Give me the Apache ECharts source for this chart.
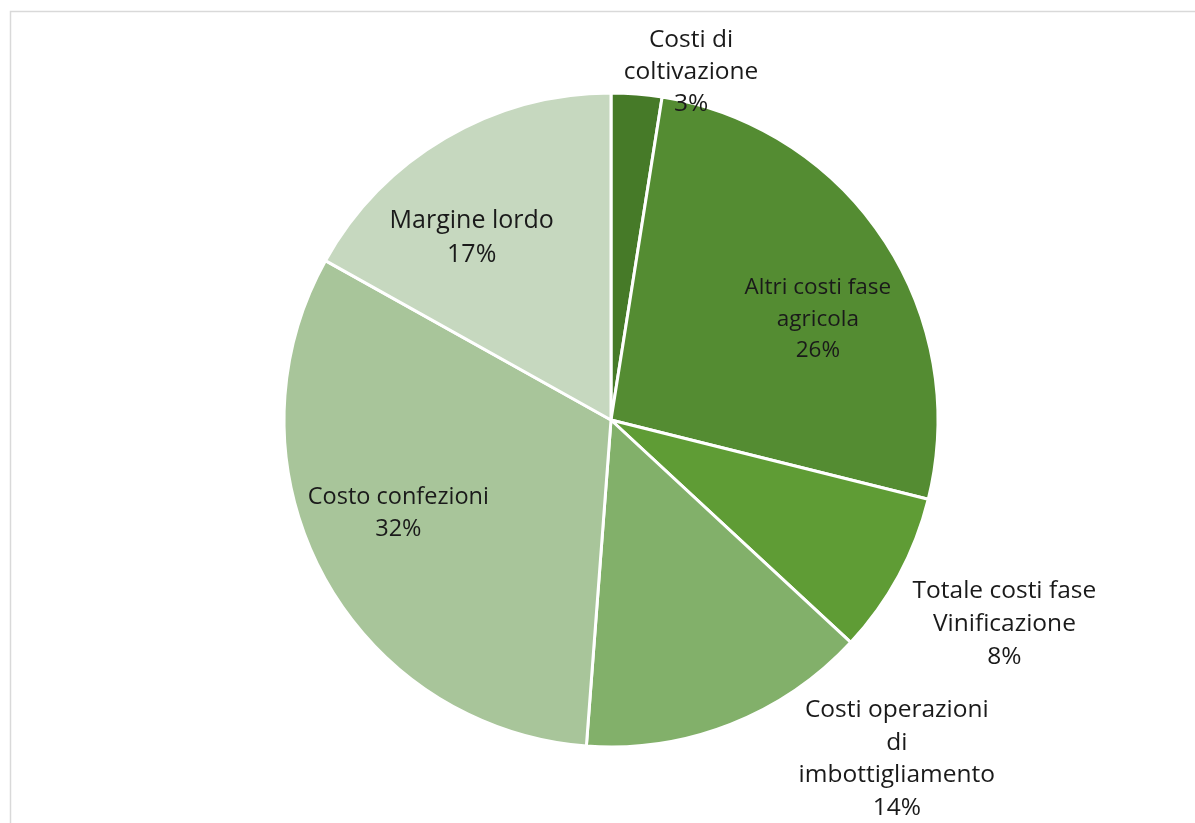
<!DOCTYPE html>
<html>
<head>
<meta charset="utf-8">
<script src="https://cdn.jsdelivr.net/npm/echarts@6/dist/echarts.min.js"></script>
<style>html,body{margin:0;padding:0;background:#fff}#c{width:1195px;height:823px}</style>
</head>
<body>
<div id="c"></div>
<script>
const categories = [
  "Costi di\ncoltivazione",
  "Altri costi fase\nagricola",
  "Totale costi fase\nVinificazione",
  "Costi operazioni\ndi\nimbottigliamento",
  "Costo confezioni",
  "Margine lordo"
];
const values = [2.5, 26.4, 8.0, 14.3, 31.9, 16.9];
const colors = ["#467a28", "#548c32", "#5f9c35", "#82b06a", "#a8c59a", "#c6d8bf"];
const labelOffsets = [[67, -182], [68, -9], [247, 125], [225, 184], [-66, 14], [-55, -39]];
const labelSizes = [24.5, 22.5, 24.5, 24.5, 23.5, 25];
const labelLineHeights = [32, 31.5, 33, 32.5, 32, 34];

const chart = echarts.init(document.getElementById('c'), null, {renderer: 'canvas'});
chart.setOption({
  backgroundColor: '#ffffff',
  animation: false,
  graphic: [{
    type: 'rect', silent: true,
    shape: {x: 10.5, y: 11.5, width: 1200, height: 830},
    style: {fill: 'none', stroke: '#d9d9d9', lineWidth: 1.5}
  }],
  series: [{
    type: 'pie',
    center: [611, 420],
    radius: [0, 327],
    startAngle: 90,
    clockwise: true,
    avoidLabelOverlap: false,
    percentPrecision: 0,
    itemStyle: {borderColor: '#ffffff', borderWidth: 3},
    label: {
      show: true,
      position: 'inside',
      color: '#1a1a1a',
      fontFamily: '"Open Sans", "Noto Sans", sans-serif',
      align: 'center',
      formatter: p => p.name + '\n' + Math.round(p.value) + '%'
    },
    labelLine: {show: false},
    labelLayout: p => ({dx: labelOffsets[p.dataIndex][0], dy: labelOffsets[p.dataIndex][1]}),
    data: categories.map((n, i) => ({
      name: n, value: values[i],
      itemStyle: {color: colors[i]},
      label: {fontSize: labelSizes[i], lineHeight: labelLineHeights[i]}
    }))
  }]
});
</script>
</body>
</html>
